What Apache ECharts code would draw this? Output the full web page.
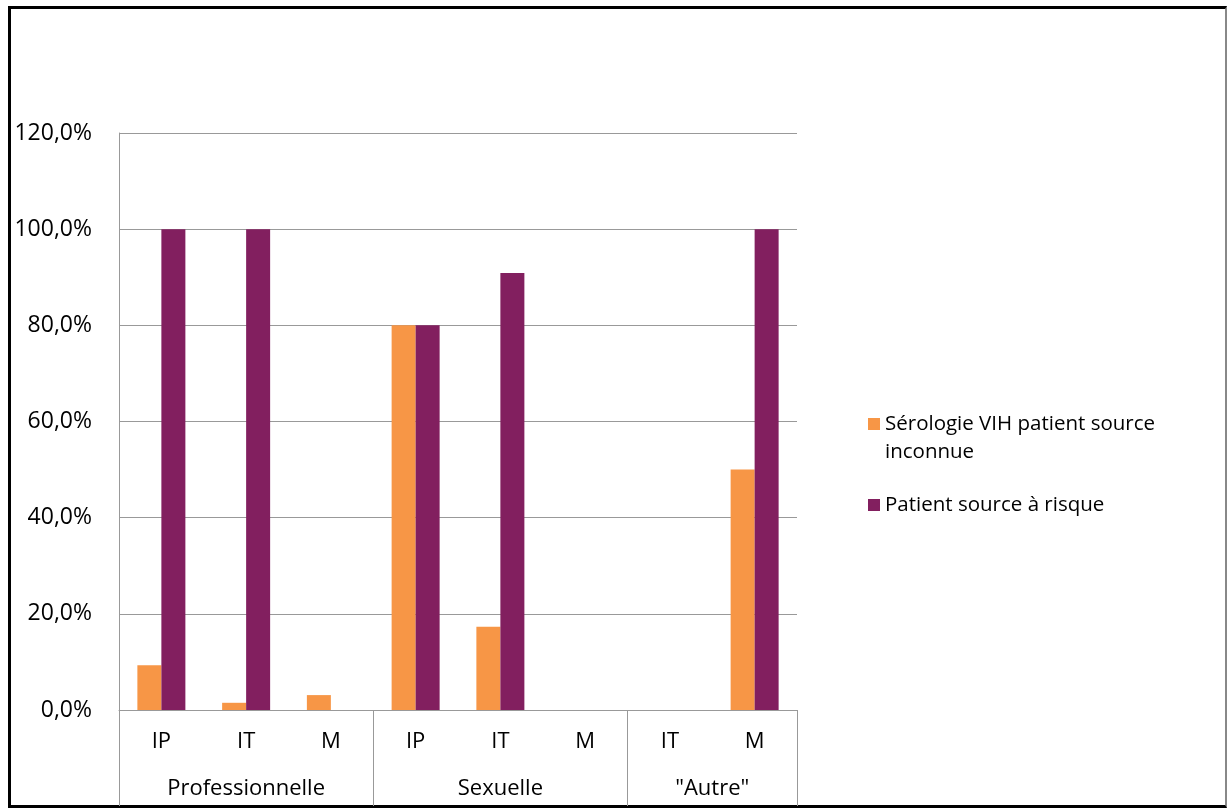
<!DOCTYPE html>
<html>
<head>
<meta charset="utf-8">
<script src="https://cdn.jsdelivr.net/npm/echarts@6/dist/echarts.min.js"></script>
<style>
html,body{margin:0;padding:0;background:#fff;}
#frame{position:absolute;left:8px;top:6px;width:1214px;height:796px;border-top:3px solid #000;border-left:3px solid #000;border-bottom:3px solid #000;border-right:2px solid #888;box-sizing:content-box;}
#chart{position:absolute;left:0;top:0;width:1227px;height:808px;}
</style>
</head>
<body>
<div id="frame"></div>
<div id="chart"></div>
<script>
const categories = ['IP', 'IT', 'M', 'IP', 'IT', 'M', 'IT', 'M'];
const groups = ['Professionnelle', 'Sexuelle', '"Autre"'];
const groupSizes = [3, 3, 2];
const seriesNames = ['Sérologie VIH patient source inconnue', 'Patient source à risque'];
const serologieInconnue = [0.093, 0.015, 0.031, 0.80, 0.173, 0, 0, 0.50];
const sourceRisque = [1.00, 1.00, 0, 0.80, 0.909, 0, 0, 1.00];
const yTicks = [0, 0.2, 0.4, 0.6, 0.8, 1.0, 1.2];

// Build group axis on half-category points (boundaryGap false)
const nCat = categories.length;
const halfPoints = [];
for (let i = 0; i <= nCat * 2; i++) halfPoints.push('');
const labelIdx = {}, tickIdx = new Set([0]);
let start = 0;
groups.forEach((g, k) => {
  const center = start + groupSizes[k] / 2;
  labelIdx[Math.round(center * 2)] = g;
  start += groupSizes[k];
  tickIdx.add(start * 2);
});
Object.keys(labelIdx).forEach(k => halfPoints[+k] = labelIdx[k]);

const font = '"Open Sans", sans-serif';
const chart = echarts.init(document.getElementById('chart'));
chart.setOption({
  backgroundColor: 'transparent',
  animation: false,
  grid: { left: 119, right: 430, top: 133, bottom: 98, containLabel: false },
  legend: {
    orient: 'vertical',
    left: 863,
    top: 377,
    itemWidth: 12,
    itemHeight: 12,
    itemGap: 25,
    icon: 'rect',
    textStyle: { fontFamily: font, fontSize: 20.5, color: '#000', lineHeight: 28 },
    formatter: function (name) {
      return name === seriesNames[0] ? '\nSérologie VIH patient source\ninconnue' : name;
    },
    data: [seriesNames[0], seriesNames[1]]
  },
  xAxis: [
    {
      type: 'category',
      data: categories,
      position: 'bottom',
      axisLine: { show: true, lineStyle: { color: '#999', width: 1 } },
      axisTick: { show: false },
      axisLabel: { fontFamily: font, fontSize: 22, color: '#000', margin: 21 }
    },
    {
      type: 'category',
      data: halfPoints,
      boundaryGap: false,
      position: 'bottom',
      axisLine: { show: false },
      axisTick: {
        show: true, inside: false, length: 96,
        interval: function (idx) { return tickIdx.has(idx); },
        lineStyle: { color: '#999', width: 1 }
      },
      axisLabel: {
        fontFamily: font, fontSize: 22, color: '#000', margin: 68,
        interval: function (idx, val) { return val !== ''; }
      }
    }
  ],
  yAxis: {
    type: 'value',
    min: 0, max: 1.2, interval: 0.2,
    axisLine: { show: true, lineStyle: { color: '#999', width: 1 } },
    axisTick: { show: false },
    splitLine: { show: true, lineStyle: { color: '#999', width: 1 } },
    axisLabel: {
      fontFamily: font, fontSize: 23, color: '#000', margin: 27,
      formatter: function (v) { return (v * 100).toFixed(1).replace('.', ',') + '%'; }
    }
  },
  series: [
    {
      name: seriesNames[0], type: 'bar', data: serologieInconnue, xAxisIndex: 0,
      barWidth: 24, barGap: '0%',
      itemStyle: { color: '#F79646' }
    },
    {
      name: seriesNames[1], type: 'bar', data: sourceRisque, xAxisIndex: 0,
      barWidth: 24, barGap: '0%',
      itemStyle: { color: '#821F5F' }
    }
  ]
});
</script>
</body>
</html>
